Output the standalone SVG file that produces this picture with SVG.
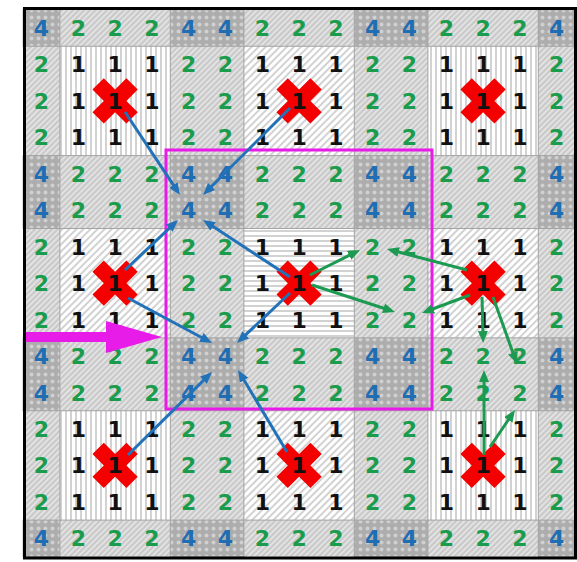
<svg xmlns="http://www.w3.org/2000/svg" width="577" height="562" viewBox="0 0 577 562">
<style>
.num text{font-family:"DejaVu Sans","Liberation Sans",sans-serif;font-weight:bold;font-size:22px;text-anchor:middle}
.b{fill:#1f6db3}.g{fill:#1a9c4c}.k{fill:#111111}
.blk{stroke:#a3a3a3;stroke-width:1}
.bl{stroke:#2172b8;stroke-width:3;fill:none;marker-end:url(#ab)}
.gl{stroke:#1c9a52;stroke-width:3;fill:none;marker-end:url(#ag)}
.xx{fill:#f40000}
</style>
<defs>
<pattern id="pv" width="5" height="5" patternUnits="userSpaceOnUse"><rect width="5" height="5" fill="#ffffff"/><rect width="2" height="5" fill="#d2d2d2"/></pattern>
<pattern id="ph" width="5" height="5" patternUnits="userSpaceOnUse"><rect width="5" height="5" fill="#ffffff"/><rect width="5" height="2" fill="#d2d2d2"/></pattern>
<pattern id="pd" width="5" height="5" patternUnits="userSpaceOnUse" patternTransform="rotate(45)"><rect width="5" height="5" fill="#ffffff"/><rect width="2" height="5" fill="#d2d2d2"/></pattern>
<pattern id="p2" width="4" height="4" patternUnits="userSpaceOnUse" patternTransform="rotate(45)"><rect width="4" height="4" fill="#c9c9c9"/><rect width="1.6" height="4" fill="#e8e8e8"/></pattern>
<pattern id="p4" width="7" height="7" patternUnits="userSpaceOnUse"><rect width="7" height="7" fill="#adadad"/><circle cx="3.5" cy="3.5" r="2" fill="#d0d0d0"/></pattern>
<marker id="ab" viewBox="0 0 12 10" refX="5" refY="5" markerWidth="12" markerHeight="10" markerUnits="userSpaceOnUse" orient="auto"><path d="M0,0 L12,5 L0,10 z" fill="#2172b8"/></marker>
<marker id="ag" viewBox="0 0 12 10" refX="5" refY="5" markerWidth="12" markerHeight="10" markerUnits="userSpaceOnUse" orient="auto"><path d="M0,0 L12,5 L0,10 z" fill="#1c9a52"/></marker>
<polygon id="cross" points="-8,-24 8,-24 8,-8 24,-8 24,8 8,8 8,24 -8,24 -8,8 -24,8 -24,-8 -8,-8" transform="rotate(45)"/>
</defs>

<g id="grid">
<rect x="23.1" y="9.8" width="552" height="546.75" fill="url(#p2)"/>
<g class="blk">
<rect x="59.9" y="46.25" width="110.4" height="109.35" fill="url(#pv)"/>
<rect x="243.9" y="46.25" width="110.4" height="109.35" fill="url(#pd)"/>
<rect x="427.9" y="46.25" width="110.4" height="109.35" fill="url(#pv)"/>
<rect x="59.9" y="228.5" width="110.4" height="109.35" fill="url(#pd)"/>
<rect x="243.9" y="228.5" width="110.4" height="109.35" fill="url(#ph)"/>
<rect x="427.9" y="228.5" width="110.4" height="109.35" fill="url(#pd)"/>
<rect x="59.9" y="410.75" width="110.4" height="109.35" fill="url(#pv)"/>
<rect x="243.9" y="410.75" width="110.4" height="109.35" fill="url(#pd)"/>
<rect x="427.9" y="410.75" width="110.4" height="109.35" fill="url(#pv)"/>
</g>
<g class="blk" fill="url(#p4)">
<rect x="23.1" y="9.8" width="36.8" height="36.45"/>
<rect x="170.3" y="9.8" width="73.6" height="36.45"/>
<rect x="354.3" y="9.8" width="73.6" height="36.45"/>
<rect x="538.3" y="9.8" width="36.8" height="36.45"/>
<rect x="23.1" y="155.6" width="36.8" height="72.9"/>
<rect x="170.3" y="155.6" width="73.6" height="72.9"/>
<rect x="354.3" y="155.6" width="73.6" height="72.9"/>
<rect x="538.3" y="155.6" width="36.8" height="72.9"/>
<rect x="23.1" y="337.85" width="36.8" height="72.9"/>
<rect x="170.3" y="337.85" width="73.6" height="72.9"/>
<rect x="354.3" y="337.85" width="73.6" height="72.9"/>
<rect x="538.3" y="337.85" width="36.8" height="72.9"/>
<rect x="23.1" y="520.1" width="36.8" height="36.45"/>
<rect x="170.3" y="520.1" width="73.6" height="36.45"/>
<rect x="354.3" y="520.1" width="73.6" height="36.45"/>
<rect x="538.3" y="520.1" width="36.8" height="36.45"/>
</g>
</g>

<g id="focus-frame"><rect x="166" y="150" width="266" height="259" fill="none" stroke="#e81ce8" stroke-width="3"/></g>

<g id="crosses" class="xx">
<g id="x1" transform="translate(115.1,100.9)"><use href="#cross"/></g>
<g id="x2" transform="translate(299.1,100.9)"><use href="#cross"/></g>
<g id="x3" transform="translate(483.1,100.9)"><use href="#cross"/></g>
<g id="x4" transform="translate(115.1,283.15)"><use href="#cross"/></g>
<g id="x5" transform="translate(299.1,283.15)"><use href="#cross"/></g>
<g id="x6" transform="translate(483.1,283.15)"><use href="#cross"/></g>
<g id="x7" transform="translate(115.1,465.4)"><use href="#cross"/></g>
<g id="x8" transform="translate(299.1,465.4)"><use href="#cross"/></g>
<g id="x9" transform="translate(483.1,465.4)"><use href="#cross"/></g>
</g>

<g id="numbers" class="num">
<g transform="translate(0,36)"><text x="41.5" class="b">4</text><text x="78.3" class="g">2</text><text x="115.1" class="g">2</text><text x="151.9" class="g">2</text><text x="188.7" class="b">4</text><text x="225.5" class="b">4</text><text x="262.3" class="g">2</text><text x="299.1" class="g">2</text><text x="335.9" class="g">2</text><text x="372.7" class="b">4</text><text x="409.5" class="b">4</text><text x="446.3" class="g">2</text><text x="483.1" class="g">2</text><text x="519.9" class="g">2</text><text x="556.7" class="b">4</text></g>
<g transform="translate(0,72.45)"><text x="41.5" class="g">2</text><text x="78.3" class="k">1</text><text x="115.1" class="k">1</text><text x="151.9" class="k">1</text><text x="188.7" class="g">2</text><text x="225.5" class="g">2</text><text x="262.3" class="k">1</text><text x="299.1" class="k">1</text><text x="335.9" class="k">1</text><text x="372.7" class="g">2</text><text x="409.5" class="g">2</text><text x="446.3" class="k">1</text><text x="483.1" class="k">1</text><text x="519.9" class="k">1</text><text x="556.7" class="g">2</text></g>
<g transform="translate(0,108.9)"><text x="41.5" class="g">2</text><text x="78.3" class="k">1</text><text x="115.1" class="k">1</text><text x="151.9" class="k">1</text><text x="188.7" class="g">2</text><text x="225.5" class="g">2</text><text x="262.3" class="k">1</text><text x="299.1" class="k">1</text><text x="335.9" class="k">1</text><text x="372.7" class="g">2</text><text x="409.5" class="g">2</text><text x="446.3" class="k">1</text><text x="483.1" class="k">1</text><text x="519.9" class="k">1</text><text x="556.7" class="g">2</text></g>
<g transform="translate(0,145.35)"><text x="41.5" class="g">2</text><text x="78.3" class="k">1</text><text x="115.1" class="k">1</text><text x="151.9" class="k">1</text><text x="188.7" class="g">2</text><text x="225.5" class="g">2</text><text x="262.3" class="k">1</text><text x="299.1" class="k">1</text><text x="335.9" class="k">1</text><text x="372.7" class="g">2</text><text x="409.5" class="g">2</text><text x="446.3" class="k">1</text><text x="483.1" class="k">1</text><text x="519.9" class="k">1</text><text x="556.7" class="g">2</text></g>
<g transform="translate(0,181.8)"><text x="41.5" class="b">4</text><text x="78.3" class="g">2</text><text x="115.1" class="g">2</text><text x="151.9" class="g">2</text><text x="188.7" class="b">4</text><text x="225.5" class="b">4</text><text x="262.3" class="g">2</text><text x="299.1" class="g">2</text><text x="335.9" class="g">2</text><text x="372.7" class="b">4</text><text x="409.5" class="b">4</text><text x="446.3" class="g">2</text><text x="483.1" class="g">2</text><text x="519.9" class="g">2</text><text x="556.7" class="b">4</text></g>
<g transform="translate(0,218.25)"><text x="41.5" class="b">4</text><text x="78.3" class="g">2</text><text x="115.1" class="g">2</text><text x="151.9" class="g">2</text><text x="188.7" class="b">4</text><text x="225.5" class="b">4</text><text x="262.3" class="g">2</text><text x="299.1" class="g">2</text><text x="335.9" class="g">2</text><text x="372.7" class="b">4</text><text x="409.5" class="b">4</text><text x="446.3" class="g">2</text><text x="483.1" class="g">2</text><text x="519.9" class="g">2</text><text x="556.7" class="b">4</text></g>
<g transform="translate(0,254.7)"><text x="41.5" class="g">2</text><text x="78.3" class="k">1</text><text x="115.1" class="k">1</text><text x="151.9" class="k">1</text><text x="188.7" class="g">2</text><text x="225.5" class="g">2</text><text x="262.3" class="k">1</text><text x="299.1" class="k">1</text><text x="335.9" class="k">1</text><text x="372.7" class="g">2</text><text x="409.5" class="g">2</text><text x="446.3" class="k">1</text><text x="483.1" class="k">1</text><text x="519.9" class="k">1</text><text x="556.7" class="g">2</text></g>
<g transform="translate(0,291.15)"><text x="41.5" class="g">2</text><text x="78.3" class="k">1</text><text x="115.1" class="k">1</text><text x="151.9" class="k">1</text><text x="188.7" class="g">2</text><text x="225.5" class="g">2</text><text x="262.3" class="k">1</text><text x="299.1" class="k">1</text><text x="335.9" class="k">1</text><text x="372.7" class="g">2</text><text x="409.5" class="g">2</text><text x="446.3" class="k">1</text><text x="483.1" class="k">1</text><text x="519.9" class="k">1</text><text x="556.7" class="g">2</text></g>
<g transform="translate(0,327.6)"><text x="41.5" class="g">2</text><text x="78.3" class="k">1</text><text x="115.1" class="k">1</text><text x="151.9" class="k">1</text><text x="188.7" class="g">2</text><text x="225.5" class="g">2</text><text x="262.3" class="k">1</text><text x="299.1" class="k">1</text><text x="335.9" class="k">1</text><text x="372.7" class="g">2</text><text x="409.5" class="g">2</text><text x="446.3" class="k">1</text><text x="483.1" class="k">1</text><text x="519.9" class="k">1</text><text x="556.7" class="g">2</text></g>
<g transform="translate(0,364.05)"><text x="41.5" class="b">4</text><text x="78.3" class="g">2</text><text x="115.1" class="g">2</text><text x="151.9" class="g">2</text><text x="188.7" class="b">4</text><text x="225.5" class="b">4</text><text x="262.3" class="g">2</text><text x="299.1" class="g">2</text><text x="335.9" class="g">2</text><text x="372.7" class="b">4</text><text x="409.5" class="b">4</text><text x="446.3" class="g">2</text><text x="483.1" class="g">2</text><text x="519.9" class="g">2</text><text x="556.7" class="b">4</text></g>
<g transform="translate(0,400.5)"><text x="41.5" class="b">4</text><text x="78.3" class="g">2</text><text x="115.1" class="g">2</text><text x="151.9" class="g">2</text><text x="188.7" class="b">4</text><text x="225.5" class="b">4</text><text x="262.3" class="g">2</text><text x="299.1" class="g">2</text><text x="335.9" class="g">2</text><text x="372.7" class="b">4</text><text x="409.5" class="b">4</text><text x="446.3" class="g">2</text><text x="483.1" class="g">2</text><text x="519.9" class="g">2</text><text x="556.7" class="b">4</text></g>
<g transform="translate(0,436.95)"><text x="41.5" class="g">2</text><text x="78.3" class="k">1</text><text x="115.1" class="k">1</text><text x="151.9" class="k">1</text><text x="188.7" class="g">2</text><text x="225.5" class="g">2</text><text x="262.3" class="k">1</text><text x="299.1" class="k">1</text><text x="335.9" class="k">1</text><text x="372.7" class="g">2</text><text x="409.5" class="g">2</text><text x="446.3" class="k">1</text><text x="483.1" class="k">1</text><text x="519.9" class="k">1</text><text x="556.7" class="g">2</text></g>
<g transform="translate(0,473.4)"><text x="41.5" class="g">2</text><text x="78.3" class="k">1</text><text x="115.1" class="k">1</text><text x="151.9" class="k">1</text><text x="188.7" class="g">2</text><text x="225.5" class="g">2</text><text x="262.3" class="k">1</text><text x="299.1" class="k">1</text><text x="335.9" class="k">1</text><text x="372.7" class="g">2</text><text x="409.5" class="g">2</text><text x="446.3" class="k">1</text><text x="483.1" class="k">1</text><text x="519.9" class="k">1</text><text x="556.7" class="g">2</text></g>
<g transform="translate(0,509.85)"><text x="41.5" class="g">2</text><text x="78.3" class="k">1</text><text x="115.1" class="k">1</text><text x="151.9" class="k">1</text><text x="188.7" class="g">2</text><text x="225.5" class="g">2</text><text x="262.3" class="k">1</text><text x="299.1" class="k">1</text><text x="335.9" class="k">1</text><text x="372.7" class="g">2</text><text x="409.5" class="g">2</text><text x="446.3" class="k">1</text><text x="483.1" class="k">1</text><text x="519.9" class="k">1</text><text x="556.7" class="g">2</text></g>
<g transform="translate(0,546.3)"><text x="41.5" class="b">4</text><text x="78.3" class="g">2</text><text x="115.1" class="g">2</text><text x="151.9" class="g">2</text><text x="188.7" class="b">4</text><text x="225.5" class="b">4</text><text x="262.3" class="g">2</text><text x="299.1" class="g">2</text><text x="335.9" class="g">2</text><text x="372.7" class="b">4</text><text x="409.5" class="b">4</text><text x="446.3" class="g">2</text><text x="483.1" class="g">2</text><text x="519.9" class="g">2</text><text x="556.7" class="b">4</text></g>
</g>

<g id="connectors">
<line class="bl" x1="125" y1="112" x2="176.1" y2="189.2"/>
<line class="bl" x1="290" y1="108" x2="208" y2="190"/>
<line class="bl" x1="290" y1="277" x2="208.9" y2="223.8"/>
<line class="bl" x1="125" y1="270" x2="172.9" y2="224.8"/>
<line class="bl" x1="128" y1="298" x2="205.8" y2="339.7"/>
<line class="bl" x1="290" y1="293" x2="242.1" y2="338.2"/>
<line class="bl" x1="128" y1="455" x2="207" y2="376.9"/>
<line class="bl" x1="287" y1="452" x2="241.6" y2="376"/>
<line class="gl" x1="310" y1="275" x2="353.7" y2="253.1"/>
<line class="gl" x1="312" y1="285" x2="388.3" y2="309.8"/>
<line class="gl" x1="467" y1="270" x2="393.8" y2="250.8"/>
<line class="gl" x1="470" y1="295" x2="428.6" y2="310.5"/>
<line class="gl" x1="482" y1="297" x2="483" y2="336"/>
<line class="gl" x1="493" y1="297" x2="514.6" y2="357.4"/>
<line class="gl" x1="484" y1="455" x2="484" y2="377"/>
<line class="gl" x1="490" y1="447" x2="511.1" y2="415.8"/>
</g>

<g id="pointer"><polygon points="24,332 106,332 106,321 162,337 106,353 106,342 24,342" fill="#e81ce8"/></g>

<rect x="24.5" y="8.5" width="551" height="549.5" fill="none" stroke="#000000" stroke-width="3"/>
</svg>
